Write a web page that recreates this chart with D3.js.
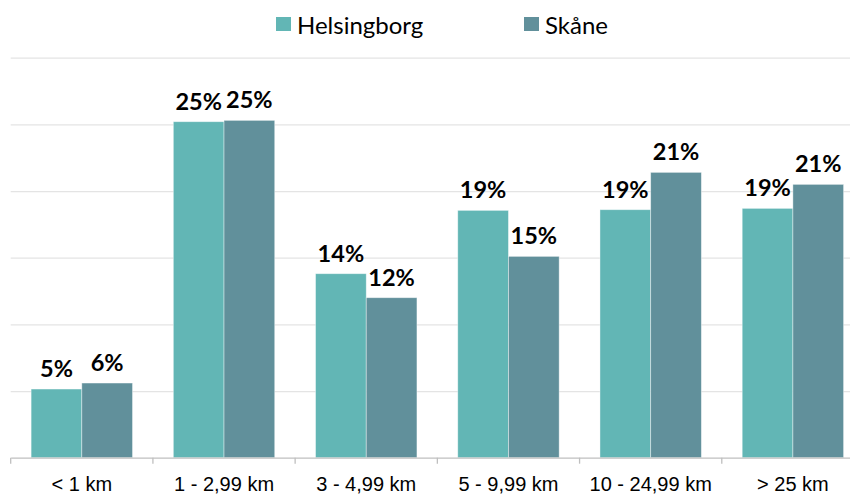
<!DOCTYPE html>
<html>
<head>
<meta charset="utf-8">
<title>Avstånd</title>
<style>
body { margin: 0; background: #fff; }
.grid line { stroke: #e4e4e4; stroke-width: 1.3; }
.grid .domain { display: none; }
.xaxis path, .xaxis line { stroke: #bfbfbf; stroke-width: 1.3; }
.label { font-family: Lato, sans-serif; font-weight: bold; font-size: 23.5px; fill: #000; }
.legend text { font-family: Lato, sans-serif; font-size: 24px; fill: #000; }
</style>
<script src="https://cdnjs.cloudflare.com/ajax/libs/d3/7.8.5/d3.min.js"></script>
</head>
<body>
<svg id="chart"></svg>
<script>
var categories = ["< 1 km", "1 - 2,99 km", "3 - 4,99 km", "5 - 9,99 km", "10 - 24,99 km", "> 25 km"];
var seriesNames = ["Helsingborg", "Skåne"];
var helsingborg = [0.0515, 0.252, 0.138, 0.1855, 0.186, 0.187];
var skane = [0.056, 0.253, 0.120, 0.151, 0.214, 0.205];
var gridTicks = [0, 0.05, 0.10, 0.15, 0.20, 0.25, 0.30];
var colors = ["#62b6b5", "#61909b"];

var width = 850, height = 494;
var svg = d3.select("#chart").attr("width", width).attr("height", height);

var plot = { left: 10.7, right: 864, top: 57.7, bottom: 457.7 };

var x0 = d3.scaleBand()
  .domain(categories)
  .range([plot.left, plot.right])
  .paddingInner(0.287)
  .paddingOuter(0.1435);

var x1 = d3.scaleBand()
  .domain(seriesNames)
  .range([0, x0.bandwidth()]);

var y = d3.scaleLinear()
  .domain([0, 0.30])
  .range([plot.bottom, plot.top]);

// gridlines
svg.append("g")
  .attr("class", "grid")
  .attr("transform", "translate(" + plot.left + ",0)")
  .call(d3.axisRight(y).tickValues(gridTicks.slice(1)).tickSize(width).tickFormat(""));

var data = categories.map(function(c, i) {
  return { cat: c, values: [helsingborg[i], skane[i]] };
});

var groups = svg.selectAll(".grp")
  .data(data)
  .enter().append("g")
  .attr("class", "grp")
  .attr("transform", function(d) { return "translate(" + x0(d.cat) + ",0)"; });

groups.selectAll("rect")
  .data(function(d) { return d.values.map(function(v, j) { return { s: seriesNames[j], v: v, j: j }; }); })
  .enter().append("rect")
  .attr("x", function(d) { return x1(d.s); })
  .attr("width", x1.bandwidth())
  .attr("y", function(d) { return y(d.v); })
  .attr("height", function(d) { return y(0) - y(d.v); })
  .attr("fill", function(d) { return colors[d.j]; })
  .attr("stroke", "#ffffff")
  .attr("stroke-opacity", 0.5)
  .attr("stroke-width", 0.8);

groups.selectAll(".label")
  .data(function(d) { return d.values.map(function(v, j) { return { s: seriesNames[j], v: v }; }); })
  .enter().append("text")
  .attr("class", "label")
  .attr("x", function(d) { return x1(d.s) + x1.bandwidth() / 2; })
  .attr("y", function(d) { return y(d.v) - 12; })
  .attr("text-anchor", "middle")
  .text(function(d) { return d3.format(".0%")(d.v); });

// x axis
var xAxis = svg.append("g")
  .attr("class", "xaxis")
  .attr("transform", "translate(0," + plot.bottom + ")")
  .call(d3.axisBottom(x0).tickSize(0).tickSizeOuter(0));
xAxis.attr("font-family", "'Liberation Sans', Arial, sans-serif").attr("font-size", 20);
xAxis.selectAll("text")
  .attr("dy", 0)
  .attr("y", 33.5)
  .attr("fill", "#000")
  .style("font-family", "'Liberation Sans', Arial, sans-serif")
  .style("font-size", "20px");

// tick marks between categories
xAxis.selectAll(".sep")
  .data(categories)
  .enter().append("line")
  .attr("class", "sep")
  .attr("x1", function(d) { return x0(d) - x0.step() * 0.1435; })
  .attr("x2", function(d) { return x0(d) - x0.step() * 0.1435; })
  .attr("y1", 0)
  .attr("y2", 6);

// legend
var legend = svg.append("g").attr("class", "legend");
var legendX = [276, 524];
seriesNames.forEach(function(name, i) {
  legend.append("rect")
    .attr("x", legendX[i]).attr("y", 17)
    .attr("width", 15).attr("height", 14)
    .attr("fill", colors[i]);
  legend.append("text")
    .attr("x", legendX[i] + 21).attr("y", 33.5)
    .text(name);
});
</script>
</body>
</html>
